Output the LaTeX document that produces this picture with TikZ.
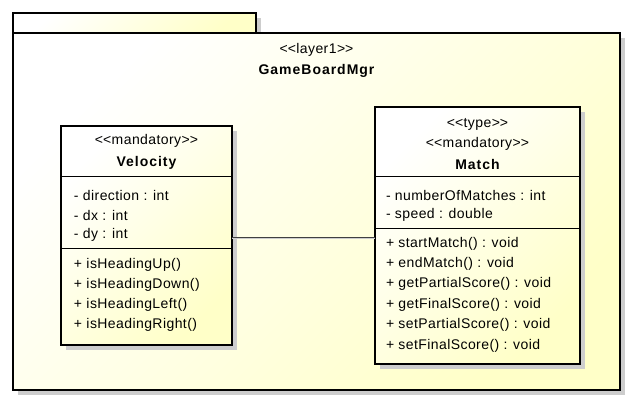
\documentclass[tikz,border=0pt]{standalone}
\usepackage{fontspec}
\setmainfont{Liberation Sans}
\definecolor{ylw}{RGB}{255,255,200}
\definecolor{shd}{RGB}{205,205,205}
\newcommand\myll{<\kern0pt<}
\newcommand\mygg{>\kern0pt>}
\begin{document}
\begin{tikzpicture}[x=1pt,y=-1pt,
  every node/.style={inner sep=0pt, outer sep=0pt},
  txt/.style={font=\fontsize{14}{16}\selectfont\addfontfeature{LetterSpace=3}},
  btxt/.style={font=\fontsize{14}{16}\selectfont\bfseries\addfontfeature{LetterSpace=7}},
  shadowbox/.style={fill=shd, draw=none},
  yfill/.style={top color=white, bottom color=ylw, shading angle=45},
  border/.style={draw=black, line width=2.6pt},
  sep/.style={draw=black, line width=1pt},
  classbox/.style={rectangle, anchor=north west, yfill, border}]
\useasboundingbox (0,0) rectangle (633,404);
% package shadows
\fill[shadowbox] (18,18) rectangle (261,38);
\fill[shadowbox] (18,38) rectangle (625,395);
% package
\node[classbox, minimum width=243pt, minimum height=20pt] (tab) at (13,13) {};
\node[classbox, minimum width=607pt, minimum height=357pt] (pkg) at (13,33) {};
\node[txt, anchor=center] (pst) at (316.5,50) {\myll layer1\mygg};
\node[btxt, anchor=center] (pname) at (316.5,71) {GameBoardMgr};
% shadows of classes
\fill[shadowbox] (66,131) rectangle (237,350);
\fill[shadowbox] (380,112) rectangle (585,369);
% Velocity
\node[classbox, minimum width=171pt, minimum height=219pt] (vel) at (61,126) {};
\draw[sep] (61,177) -- (232,177);
\draw[sep] (61,248) -- (232,248);
\node[txt, anchor=center] (vst) at (146.5,141) {\myll mandatory\mygg};
\node[btxt, anchor=center] (vname) at (146.5,163) {Velocity};
\node[txt, anchor=west] (va1) at (74,195) {- direction : int};
\node[txt, anchor=west] (va2) at (74,215) {- dx : int};
\node[txt, anchor=west] (va3) at (74,235) {- dy : int};
\node[txt, anchor=west] (vm1) at (74,265) {+ isHeadingUp()};
\node[txt, anchor=west] (vm2) at (74,285) {+ isHeadingDown()};
\node[txt, anchor=west] (vm3) at (74,305) {+ isHeadingLeft()};
\node[txt, anchor=west] (vm4) at (74,325) {+ isHeadingRight()};
% Match
\node[classbox, minimum width=205pt, minimum height=257pt] (match) at (375,107) {};
\draw[sep] (375,177) -- (580,177);
\draw[sep] (375,228) -- (580,228);
\node[txt, anchor=center] (mst1) at (477.5,124) {\myll type\mygg};
\node[txt, anchor=center] (mst2) at (477.5,144) {\myll mandatory\mygg};
\node[btxt, anchor=center] (mname) at (477.5,164) {Match};
\node[txt, anchor=west] (ma1) at (386,195) {- numberOfMatches : int};
\node[txt, anchor=west] (ma2) at (386,215) {- speed : double};
\node[txt, anchor=west] (mm1) at (386,244) {+ startMatch() : void};
\node[txt, anchor=west] (mm2) at (386,264) {+ endMatch() : void};
\node[txt, anchor=west] (mm3) at (386,284) {+ getPartialScore() : void};
\node[txt, anchor=west] (mm4) at (386,305) {+ getFinalScore() : void};
\node[txt, anchor=west] (mm5) at (386,325) {+ setPartialScore() : void};
\node[txt, anchor=west] (mm6) at (386,346) {+ setFinalScore() : void};
% connector
\draw[shd, line width=1pt] ([yshift=-3pt]vel.east) -- ([yshift=-3pt]match.west);
\draw[black!75, line width=1pt] ([yshift=-1.5pt]vel.east) -- ([yshift=-1.5pt]match.west);
\end{tikzpicture}
\end{document}
